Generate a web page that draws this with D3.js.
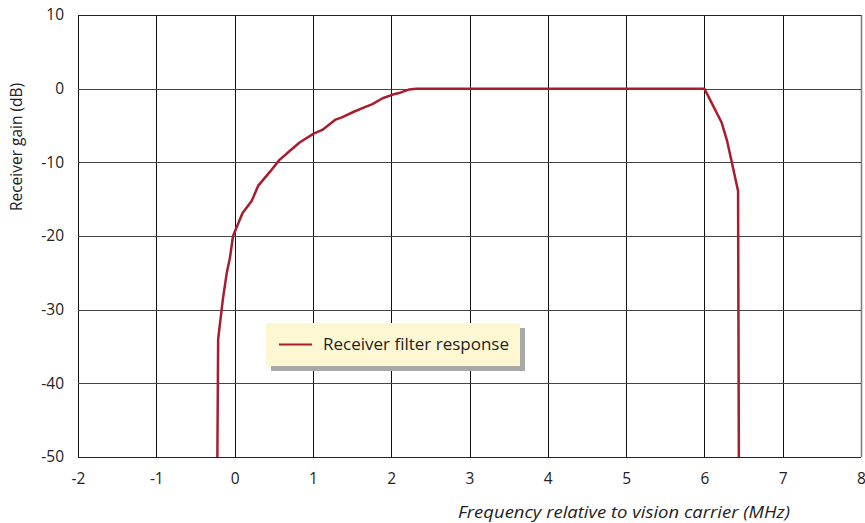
<!DOCTYPE html>
<html>
<head>
<meta charset="utf-8">
<script src="https://cdn.jsdelivr.net/npm/d3@7"></script>
<style>
  html, body { margin: 0; padding: 0; background: #fff; }
  svg { display: block; }
  text { font-family: "Open Sans", "Noto Sans", sans-serif; fill: #222; }
</style>
</head>
<body>
<svg id="chart" width="865" height="523"></svg>
<script>
// Frequency (MHz, relative to vision carrier) and receiver gain (dB)
const freqMHz = [-0.22, -0.21, -0.15, -0.10, -0.06, -0.02, 0.10, 0.22, 0.30, 0.45, 0.57, 0.70, 0.83, 1.01, 1.12, 1.29, 1.37, 1.53, 1.64, 1.76, 1.89, 2.02, 2.10, 2.23, 2.32, 6.00, 6.22, 6.29, 6.35, 6.43, 6.44];
const gainDb  = [-50, -34, -28.6, -25, -23, -20, -16.9, -15.2, -13.2, -11.3, -9.7, -8.5, -7.3, -6.1, -5.6, -4.2, -3.9, -3.1, -2.6, -2.1, -1.3, -0.8, -0.6, -0.1, 0, 0, -4.6, -7.1, -10, -13.9, -50];

const xTicks = [-2, -1, 0, 1, 2, 3, 4, 5, 6, 7, 8];
const yTicks = [10, 0, -10, -20, -30, -40, -50];
const seriesName = "Receiver filter response";
const xTitle = "Frequency relative to vision carrier (MHz)";
const yTitle = "Receiver gain (dB)";

const svg = d3.select("#chart");
const plot = { left: 78, right: 861, top: 15, bottom: 457 };

const x = d3.scaleLinear().domain([-2, 8]).range([plot.left, plot.right]);
const y = d3.scaleLinear().domain([-50, 10]).range([plot.bottom, plot.top]);

// plain hyphen-minus labels
const fmt = d => String(d);

// grid
const grid = svg.append("g");
grid.selectAll("line.v").data(xTicks).join("line")
  .attr("x1", d => Math.round(x(d)) + 0.5).attr("x2", d => Math.round(x(d)) + 0.5)
  .attr("y1", plot.top).attr("y2", plot.bottom)
  .attr("stroke", d => (d === 8 ? "#777" : "#111")).attr("stroke-width", d => (d === 8 ? 1.5 : 1));
grid.selectAll("line.h").data(yTicks).join("line")
  .attr("y1", d => Math.round(y(d)) + 0.5).attr("y2", d => Math.round(y(d)) + 0.5)
  .attr("x1", plot.left).attr("x2", plot.right)
  .attr("stroke", d => (d === -50 || d === 10 ? "#222" : "#444")).attr("stroke-width", 1);

// axis labels via d3 axes (labels only)
const xAxis = svg.append("g").attr("transform", `translate(0,${plot.bottom})`)
  .call(d3.axisBottom(x).tickValues(xTicks).tickSize(0).tickPadding(16).tickFormat(fmt));
xAxis.select(".domain").remove();
xAxis.selectAll("text").attr("font-size", 15.5).attr("fill", "#222")
  .style("font-family", "\"Open Sans\", sans-serif");

const yAxis = svg.append("g").attr("transform", `translate(${plot.left},0)`)
  .call(d3.axisLeft(y).tickValues(yTicks).tickSize(0).tickPadding(14).tickFormat(fmt));
yAxis.select(".domain").remove();
yAxis.selectAll("text").attr("font-size", 15.5).attr("fill", "#222")
  .style("font-family", "\"Open Sans\", sans-serif");

// titles
svg.append("text")
  .attr("x", 458).attr("y", 518)
  .attr("font-size", 17).attr("font-style", "italic")
  .attr("textLength", 332).attr("lengthAdjust", "spacingAndGlyphs")
  .text(xTitle);
svg.append("text")
  .attr("transform", "translate(22,147) rotate(-90)")
  .attr("text-anchor", "middle").attr("font-size", 15.5)
  .text(yTitle);

// response curve
const line = d3.line().x((d, i) => x(freqMHz[i])).y(d => y(d));
svg.append("path")
  .datum(gainDb)
  .attr("d", line)
  .attr("fill", "none")
  .attr("stroke", "#a81d2e")
  .attr("stroke-width", 2.5)
  .attr("stroke-linejoin", "round");

// legend
const lg = svg.append("g").attr("transform", "translate(266,323)");
lg.append("rect").attr("x", 5).attr("y", 5).attr("width", 254).attr("height", 43).attr("fill", "#a8a8a8");
lg.append("rect").attr("x", 0).attr("y", 0).attr("width", 254).attr("height", 43).attr("fill", "#fdf8d2");
lg.append("line").attr("x1", 13).attr("x2", 46).attr("y1", 21.5).attr("y2", 21.5)
  .attr("stroke", "#a81d2e").attr("stroke-width", 2);
lg.append("text").attr("x", 57).attr("y", 27).attr("font-size", 17).text(seriesName);
</script>
</body>
</html>
